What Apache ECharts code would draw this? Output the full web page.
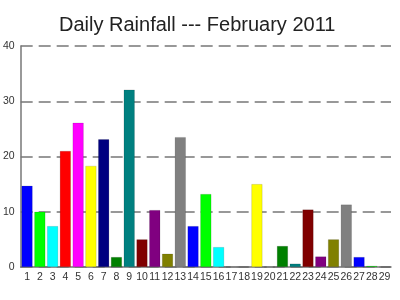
<!DOCTYPE html>
<html><head><meta charset="utf-8">
<script src="https://cdn.jsdelivr.net/npm/echarts@6/dist/echarts.min.js"></script>
<style>html,body{margin:0;padding:0;background:#fff}#c{width:400px;height:300px}</style>
</head><body><div id="c"></div>
<script>
const days = ['1','2','3','4','5','6','7','8','9','10','11','12','13','14','15','16','17','18','19','20','21','22','23','24','25','26','27','28','29'];
const rainfall = [14.7,10,7.4,21,26.1,18.3,23.1,1.8,32.1,5,10.3,2.4,23.5,7.4,13.2,3.6,0,0,15,0,3.8,0.6,10.4,1.9,5,11.3,1.8,0.2,0];
const palette = ['#0000ff','#00ff00','#00ffff','#ff0000','#ff00ff','#ffff00','#000080','#008000','#008080','#800000','#800080','#808000','#808080'];
const yTicks = [0,10,20,30,40];

const chart = echarts.init(document.getElementById('c'));
chart.setOption({
  animation:false,
  title:{text:'Daily Rainfall --- February 2011',left:54,top:10,
    textStyle:{fontFamily:'Liberation Sans',fontSize:20,fontWeight:'normal',color:'#222'}},
  grid:{left:20,right:9,top:46,bottom:33},
  xAxis:{type:'category',data:days,
    axisLine:{lineStyle:{color:'#777',width:1.5}},
    axisTick:{inside:true,length:5,lineStyle:{color:'#555'}},
    axisLabel:{fontFamily:'Liberation Sans',fontSize:10.5,color:'#333',margin:5,interval:0}},
  yAxis:{type:'value',min:yTicks[0],max:yTicks[yTicks.length-1],interval:10,
    axisLine:{show:true,lineStyle:{color:'#777',width:1.5}},
    axisTick:{show:false},
    axisLabel:{fontFamily:'Liberation Sans',fontSize:10.5,color:'#333',margin:6},
    splitLine:{lineStyle:{color:'#777',width:1.5,type:[12,6]}}},
  series:[{type:'bar',barCategoryGap:'14%',
    data:rainfall.map((v,i)=>({value:v,itemStyle:{color:palette[i%palette.length]}})),
    itemStyle:{borderColor:'rgba(0,0,0,0.25)',borderWidth:0.5}}]
});
</script></body></html>
